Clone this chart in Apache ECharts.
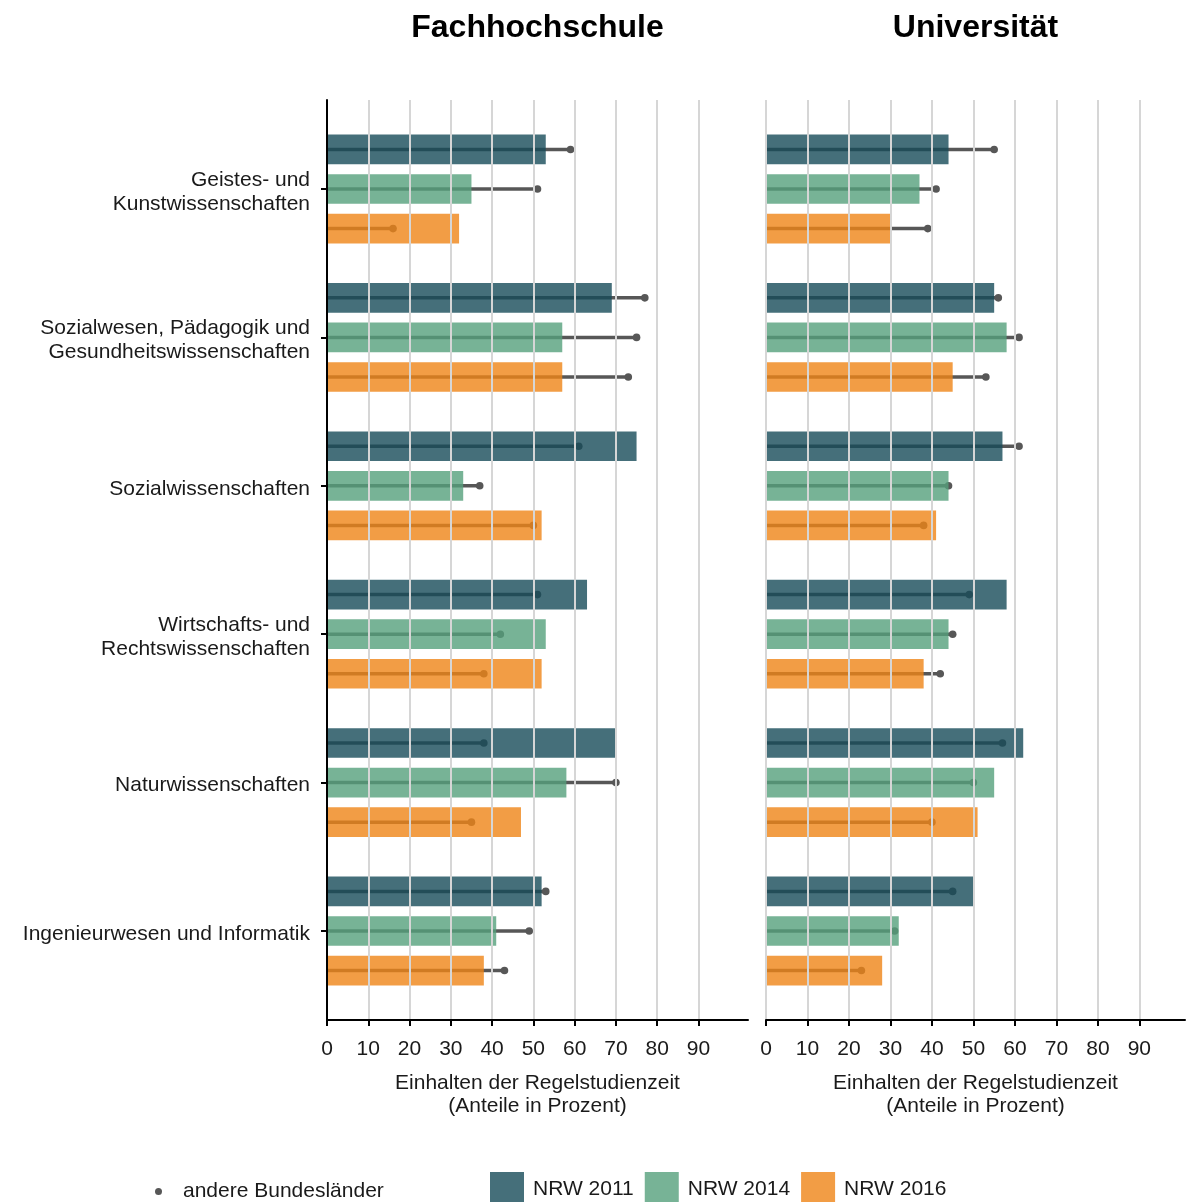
<!DOCTYPE html>
<html>
<head>
<meta charset="utf-8">
<script src="https://cdn.jsdelivr.net/npm/echarts@6/dist/echarts.min.js"></script>
<style>
html,body{margin:0;padding:0;background:#fff;}
#chart{width:1187px;height:1202px;}
</style>
</head>
<body>
<div id="chart"></div>
<script>
const categories = [
  "Geistes- und\nKunstwissenschaften",
  "Sozialwesen, Pädagogik und\nGesundheitswissenschaften",
  "Sozialwissenschaften",
  "Wirtschafts- und\nRechtswissenschaften",
  "Naturwissenschaften",
  "Ingenieurwesen und Informatik"
];
const years = ["NRW 2011", "NRW 2014", "NRW 2016"];
const panelTitles = ["Fachhochschule", "Universität"];
const xTicks = [0, 10, 20, 30, 40, 50, 60, 70, 80, 90];

// Fachhochschule
const fh2011 = [53, 69, 75, 63, 70, 52];
const fh2014 = [35, 57, 33, 53, 58, 41];
const fh2016 = [32, 57, 52, 52, 47, 38];
const fhOther2011 = [59, 77, 61, 51, 38, 53];
const fhOther2014 = [51, 75, 37, 42, 70, 49];
const fhOther2016 = [16, 73, 50, 38, 35, 43];

// Universität
const uni2011 = [44, 55, 57, 58, 62, 50];
const uni2014 = [37, 58, 44, 44, 55, 32];
const uni2016 = [30, 45, 41, 38, 51, 28];
const uniOther2011 = [55, 56, 61, 49, 57, 45];
const uniOther2014 = [41, 61, 44, 45, 50, 31];
const uniOther2016 = [39, 53, 38, 42, 40, 23];

const barColors = ["rgba(23,75,89,0.8)", "rgba(85,160,124,0.8)", "rgba(239,133,23,0.8)"];
const otherColor = "#575757";
const offsets = [-0.2667, 0, 0.2667];
const barH = 0.2;
const FONT = "Liberation Sans";
const FS = 21;

const panels = [
  {bars: [fh2011, fh2014, fh2016], other: [fhOther2011, fhOther2014, fhOther2016]},
  {bars: [uni2011, uni2014, uni2016], other: [uniOther2011, uniOther2014, uniOther2016]}
];

function barRender(off, color) {
  return function (params, api) {
    const v = api.value(0), c = api.value(1);
    const p0 = api.coord([0, c + off - barH / 2]);
    const p1 = api.coord([v, c + off + barH / 2]);
    return {
      type: 'rect',
      shape: {x: p0[0], y: Math.min(p0[1], p1[1]), width: p1[0] - p0[0], height: Math.abs(p1[1] - p0[1])},
      style: {fill: color}
    };
  };
}
function otherRender(off) {
  return function (params, api) {
    const v = api.value(0), c = api.value(1);
    const p0 = api.coord([0, c + off]);
    const p1 = api.coord([v, c + off]);
    return {
      type: 'group',
      children: [
        {type: 'line', shape: {x1: p0[0], y1: p0[1], x2: p1[0], y2: p1[1]}, style: {stroke: otherColor, lineWidth: 3.5}},
        {type: 'circle', shape: {cx: p1[0], cy: p1[1], r: 3.8}, style: {fill: otherColor}}
      ]
    };
  };
}

const grids = [
  {left: 327, width: 421, top: 100, height: 920},
  {left: 766, width: 419, top: 100, height: 920}
];
const xMax = [102, 101];
const catTicks = [1, 2, 3, 4, 5, 6];

const xAxes = [], yAxes = [], series = [];
panels.forEach((p, gi) => {
  xAxes.push({
    gridIndex: gi, type: 'value', min: 0, max: xMax[gi], z: 5,
    axisLine: {show: true, onZero: false, lineStyle: {color: '#000', width: 2}},
    axisTick: {show: true, customValues: xTicks, length: 6, lineStyle: {color: '#000', width: 2}},
    axisLabel: {customValues: xTicks, color: '#1a1a1a', fontSize: FS, fontFamily: FONT, margin: 19},
    splitLine: {show: false},
    name: 'Einhalten der Regelstudienzeit\n(Anteile in Prozent)',
    nameLocation: 'middle', nameGap: 52,
    nameTextStyle: {color: '#1a1a1a', fontSize: FS, fontFamily: FONT, lineHeight: 23}
  });
  yAxes.push({
    gridIndex: gi, type: 'value', min: 0.4, max: 6.6, inverse: true, z: 5,
    axisLine: {show: gi === 0, onZero: false, lineStyle: {color: '#000', width: 2}},
    axisTick: {show: gi === 0, customValues: catTicks, length: 6, lineStyle: {color: '#000', width: 2}},
    axisLabel: {show: gi === 0, customValues: catTicks.map(c => c + 0.02), formatter: v => categories[Math.round(v) - 1] || '',
      color: '#1a1a1a', fontSize: FS, fontFamily: FONT, lineHeight: 24, align: 'right', margin: 17},
    splitLine: {show: false}
  });
  // grid lines
  series.push({
    type: 'line', xAxisIndex: gi, yAxisIndex: gi, data: [], z: 1, silent: true,
    markLine: {
      silent: true, symbol: ['none', 'none'], label: {show: false},
      lineStyle: {color: '#d6d6d6', width: 2, type: 'solid'},
      data: xTicks.filter(t => gi > 0 || t > 0).map(t => ({xAxis: t})),
      animation: false
    }
  });
  p.other.forEach((arr, yi) => {
    series.push({
      type: 'custom', name: 'andere Bundesländer', xAxisIndex: gi, yAxisIndex: gi, z: 2,
      itemStyle: {color: otherColor},
      renderItem: otherRender(offsets[yi]),
      encode: {x: 0, y: 1},
      data: arr.map((v, ci) => [v, ci + 1])
    });
  });
  p.bars.forEach((arr, yi) => {
    series.push({
      type: 'custom', name: years[yi], xAxisIndex: gi, yAxisIndex: gi, z: 3,
      itemStyle: {color: barColors[yi]},
      renderItem: barRender(offsets[yi], barColors[yi]),
      encode: {x: 0, y: 1},
      data: arr.map((v, ci) => [v, ci + 1])
    });
  });
});

const chart = echarts.init(document.getElementById('chart'), null, {renderer: 'canvas'});
chart.setOption({
  animation: false,
  backgroundColor: '#fff',
  grid: grids.map(g => Object.assign({outerBoundsMode: 'none', containLabel: false}, g)),
  xAxis: xAxes,
  yAxis: yAxes,
  legend: [
    {
      left: 150, top: 1176, itemWidth: 7, itemHeight: 7,
      data: [{name: 'andere Bundesländer', icon: 'circle'}],
      textStyle: {color: '#1a1a1a', fontSize: FS, fontFamily: FONT, padding: [0, 0, 0, 16]}
    },
    {
      left: 485, top: 1167, itemWidth: 34, itemHeight: 34, itemGap: 11,
      data: years.map(n => ({name: n, icon: 'rect'})),
      textStyle: {color: '#1a1a1a', fontSize: FS, fontFamily: FONT, padding: [0, 0, 0, 4]}
    }
  ],
  graphic: panelTitles.map((t, i) => ({
    type: 'text', x: grids[i].left + grids[i].width / 2, y: 28,
    style: {text: t, fill: '#000', font: 'bold 32px "' + FONT + '"', textAlign: 'center', textVerticalAlign: 'middle'}
  })),
  series: series
});
</script>
</body>
</html>
